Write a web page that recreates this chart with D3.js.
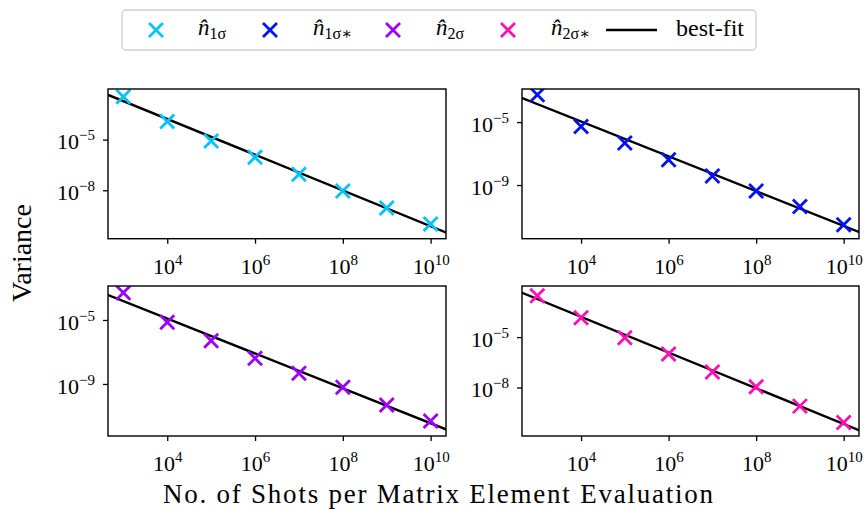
<!DOCTYPE html>
<html>
<head>
<meta charset="utf-8">
<script src="https://cdn.jsdelivr.net/npm/d3@7"></script>
<style>
  body { margin: 0; background: #fff; }
  svg text, svg tspan { font-family: "Liberation Serif", "DejaVu Serif", serif; fill: #000; }
</style>
</head>
<body>
<script>
// DATA

// shots per matrix element evaluation (x values, shared by every panel)
const shots = [1e3, 1e4, 1e5, 1e6, 1e7, 1e8, 1e9, 1e10];

// variance per estimator
const var1Sigma     = [3.5e-3, 1.2e-4, 8.3e-6, 9.1e-7, 8.9e-8, 9.1e-9, 8.9e-10, 1.0e-10];
const var1SigmaStar = [5.4e-4, 5.2e-6, 4.7e-7, 4.1e-8, 3.7e-9, 4.2e-10, 4.4e-11, 3.0e-12];
const var2Sigma     = [5.1e-4, 7.1e-6, 5.1e-7, 4.0e-8, 4.7e-9, 6.2e-10, 4.9e-11, 4.9e-12];
const var2SigmaStar = [2.9e-3, 1.4e-4, 9.1e-6, 9.8e-7, 8.5e-8, 1.1e-8, 7.8e-10, 8.3e-11];

// best-fit lines, two ends each (clipped to the axes)
const fitShots         = [316, 3.16e10];
const fit1Sigma        = [6.5e-3, 2.2e-11];
const fit1SigmaStar    = [4.9e-4, 7.1e-13];
const fit2Sigma        = [5.3e-4, 1.0e-12];
const fit2SigmaStar    = [6.3e-3, 2.0e-11];

// axis limits and tick values
const xLimits  = [447, 2.24e10];
const xTicks   = [1e4, 1e6, 1e8, 1e10];
const yLimits1 = [1.35e-11, 1.0e-2];
const yLimits2 = [3.9e-13, 1.26e-3];
const yLimits3 = [5.6e-13, 1.33e-3];
const yLimits4 = [1.3e-11, 1.1e-2];
const yTicksA  = [1e-5, 1e-8];
const yTicksB  = [1e-5, 1e-9];

// legend
const seriesNames  = ["1σ", "1σ∗", "2σ", "2σ∗"];
const seriesColors = ["#00c3ff", "#0011ff", "#9b00ff", "#ff0fb4"];

// LAYOUT
const width = 866, height = 509;
const serif = '"Liberation Serif", "DejaVu Serif", serif';
const colX = [[108, 446], [522, 859]];
const rowY = [[89, 238.7], [286, 436]];

const panels = [
  { col: 0, row: 0, y: var1Sigma,     fit: fit1Sigma,     yLim: yLimits1, yTicks: yTicksA, color: seriesColors[0] },
  { col: 1, row: 0, y: var1SigmaStar, fit: fit1SigmaStar, yLim: yLimits2, yTicks: yTicksB, color: seriesColors[1] },
  { col: 0, row: 1, y: var2Sigma,     fit: fit2Sigma,     yLim: yLimits3, yTicks: yTicksB, color: seriesColors[2] },
  { col: 1, row: 1, y: var2SigmaStar, fit: fit2SigmaStar, yLim: yLimits4, yTicks: yTicksA, color: seriesColors[3] }
];

const svg = d3.select('body').append('svg')
  .attr('width', width)
  .attr('height', height)
  .attr('font-family', serif);

// power of ten label: "10" with a raised exponent
function powerLabel(sel, value) {
  const e = Math.round(Math.log10(value));
  sel.text(null);
  sel.append('tspan').text('10');
  sel.append('tspan')
    .attr('font-size', 15)
    .attr('dy', -9)
    .text(e < 0 ? '−' + (-e) : e);
}

// x marker path centred on 0,0
const crossPath = (s) => `M${-s},${-s}L${s},${s}M${-s},${s}L${s},${-s}`;

panels.forEach((p, i) => {
  const [x0, x1] = colX[p.col];
  const [y0, y1] = rowY[p.row];

  const xScale = d3.scaleLog().domain(xLimits).range([x0, x1]);
  const yScale = d3.scaleLog().domain(p.yLim).range([y1, y0]);

  const g = svg.append('g').classed('panel', true);

  g.append('clipPath').attr('id', 'clip' + i)
    .append('rect')
    .attr('x', x0).attr('y', y0)
    .attr('width', x1 - x0).attr('height', y1 - y0);

  // axes
  const xAxis = d3.axisBottom(xScale).tickValues(xTicks).tickSize(5).tickPadding(5);
  const gx = g.append('g')
    .attr('transform', `translate(0,${y1})`)
    .call(xAxis)
    .attr('font-family', serif);
  gx.selectAll('.tick text')
    .attr('font-size', 22)
    .attr('dy', '1.15em')
    .each(function(d) { powerLabel(d3.select(this), d); });

  const yAxis = d3.axisLeft(yScale).tickValues(p.yTicks).tickSize(5).tickPadding(8);
  const gy = g.append('g')
    .attr('transform', `translate(${x0},0)`)
    .call(yAxis)
    .attr('font-family', serif);
  gy.selectAll('.tick text')
    .attr('font-size', 22)
    .attr('dy', '0.42em')
    .each(function(d) { powerLabel(d3.select(this), d); });

  g.selectAll('.domain').remove();
  g.selectAll('.tick line').attr('stroke', '#000').attr('stroke-width', 1.3);
  g.selectAll('.tick text').attr('fill', '#000');

  // best-fit line
  const line = d3.line()
    .x((d, j) => xScale(fitShots[j]))
    .y(d => yScale(d));
  g.append('path')
    .attr('clip-path', `url(#clip${i})`)
    .attr('fill', 'none')
    .attr('stroke', '#000')
    .attr('stroke-width', 2.4)
    .attr('d', line(p.fit));

  // markers
  g.append('g')
    .attr('clip-path', `url(#clip${i})`)
    .selectAll('path.marker')
    .data(p.y)
    .join('path')
    .classed('marker', true)
    .attr('transform', (d, j) => `translate(${xScale(shots[j])},${yScale(d)})`)
    .attr('d', crossPath(7))
    .attr('fill', 'none')
    .attr('stroke', p.color)
    .attr('stroke-width', 2.8);

  // frame
  g.append('rect')
    .attr('x', x0).attr('y', y0)
    .attr('width', x1 - x0).attr('height', y1 - y0)
    .attr('fill', 'none')
    .attr('stroke', '#000')
    .attr('stroke-width', 1.4);
});

// axis titles
svg.append('text')
  .attr('x', 438).attr('y', 503)
  .attr('text-anchor', 'middle')
  .attr('font-size', 27)
  .attr('textLength', 550)
  .attr('lengthAdjust', 'spacing')
  .text('No. of Shots per Matrix Element Evaluation');

svg.append('text')
  .attr('transform', 'translate(31,253) rotate(-90)')
  .attr('text-anchor', 'middle')
  .attr('font-size', 28)
  .text('Variance');

// legend
const legend = svg.append('g').classed('legend', true);
legend.append('rect')
  .attr('x', 122).attr('y', 10)
  .attr('width', 634).attr('height', 40)
  .attr('rx', 4)
  .attr('fill', '#fff')
  .attr('stroke', '#d0d0d0')
  .attr('stroke-width', 1.3);

const markerX = [156, 270, 393, 508];
const labelX  = [198, 313, 436, 551];
seriesNames.forEach((name, i) => {
  legend.append('path')
    .attr('transform', `translate(${markerX[i]},30)`)
    .attr('d', crossPath(7))
    .attr('fill', 'none')
    .attr('stroke', seriesColors[i])
    .attr('stroke-width', 2.8);
  const t = legend.append('text')
    .attr('x', labelX[i]).attr('y', 35)
    .attr('font-size', 23);
  t.append('tspan').attr('font-style', 'italic').text('n\u0302');
  t.append('tspan').attr('font-size', 16).attr('dy', 4).text(name);
});

legend.append('line')
  .attr('x1', 606).attr('x2', 657)
  .attr('y1', 30).attr('y2', 30)
  .attr('stroke', '#000')
  .attr('stroke-width', 2.4);
legend.append('text')
  .attr('x', 676).attr('y', 36)
  .attr('font-size', 24)
  .text('best-fit');
</script>
</body>
</html>
